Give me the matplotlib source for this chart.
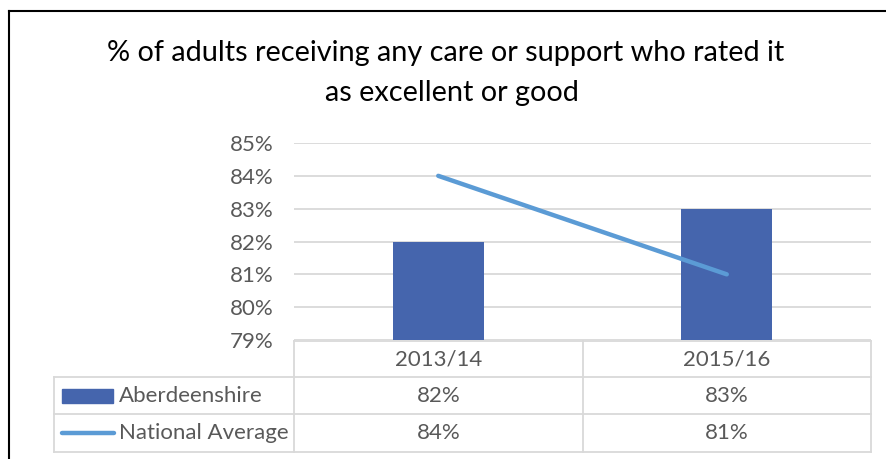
import matplotlib.pyplot as plt
from matplotlib.lines import Line2D
from matplotlib.patches import Rectangle

categories = ["2013/14", "2015/16"]
aberdeenshire = [82, 83]
national_avg = [84, 81]
series_names = ["Aberdeenshire", "National Average"]
title = "% of adults receiving any care or support who rated it\nas excellent or good"

W, H = 887, 459
bar_color = "#4565AD"
line_color = "#5B9BD5"
grid_color = "#D9D9D9"
text_color = "#595959"

plt.rcParams["font.family"] = ["Lato", "DejaVu Sans"]

fig = plt.figure(figsize=(W / 100, H / 100), dpi=100)

def fx(px):
    return px / W

def fy(py):
    return 1 - py / H

# plot area
x0, x1, ytop, ybot = 294, 871, 143, 340
ax = fig.add_axes([fx(x0), fy(ybot), fx(x1) - fx(x0), fy(ytop) - fy(ybot)])
xs = range(len(categories))
ax.bar(xs, aberdeenshire, width=0.315, color=bar_color, zorder=2)
ax.plot(xs, national_avg, color=line_color, lw=3.2, solid_capstyle="round", zorder=3)
ax.set_xlim(-0.5, len(categories) - 0.5)
ax.set_ylim(79, 85)
ax.set_yticks(range(79, 86))
ax.set_yticklabels([f"{v}%" for v in range(79, 86)])
ax.yaxis.grid(True, color=grid_color, lw=1.3, zorder=0)
ax.tick_params(axis="y", length=0, pad=15, labelsize=16, labelcolor=text_color)
ax.tick_params(axis="x", length=0, labelbottom=False)
for s in ax.spines.values():
    s.set_visible(False)

# title (two lines, like the Excel chart title)
line1, line2 = title.split("\n")
fig.text(fx(446), fy(53), line1, ha="center", va="center", fontsize=20.8, color="black")
fig.text(fx(452), fy(93), line2, ha="center", va="center", fontsize=20.8, color="black")

# data table
rows_y = [341, 377, 414, 452]
col_x = [54, 294, 583, 871]
tl = dict(color=grid_color, lw=1.3, transform=fig.transFigure)
fig.add_artist(Line2D([fx(col_x[1]), fx(col_x[3])], [fy(rows_y[0])] * 2, **tl))
for ry in rows_y[1:]:
    fig.add_artist(Line2D([fx(col_x[0]), fx(col_x[3])], [fy(ry)] * 2, **tl))
fig.add_artist(Line2D([fx(col_x[0])] * 2, [fy(rows_y[1]), fy(rows_y[3])], **tl))
for cx in col_x[1:]:
    fig.add_artist(Line2D([fx(cx)] * 2, [fy(rows_y[0]), fy(rows_y[3])], **tl))

ts = dict(ha="center", va="center", fontsize=16, color=text_color)
for i, cat in enumerate(categories):
    cxm = (col_x[i + 1] + col_x[i + 2]) / 2
    fig.text(fx(cxm), fy((rows_y[0] + rows_y[1]) / 2), cat, **ts)
    fig.text(fx(cxm), fy((rows_y[1] + rows_y[2]) / 2), f"{aberdeenshire[i]}%", **ts)
    fig.text(fx(cxm), fy((rows_y[2] + rows_y[3]) / 2), f"{national_avg[i]}%", **ts)

# legend keys
r1 = (rows_y[1] + rows_y[2]) / 2
r2 = (rows_y[2] + rows_y[3]) / 2
fig.add_artist(Rectangle((fx(62), fy(403)), fx(113) - fx(62), fy(389) - fy(403),
                         color=bar_color, transform=fig.transFigure))
fig.add_artist(Line2D([fx(62), fx(114)], [fy(r2)] * 2, color=line_color, lw=3.2,
                      solid_capstyle="round", transform=fig.transFigure))
fig.text(fx(119), fy(r1), series_names[0], ha="left", va="center", fontsize=16, color=text_color)
fig.text(fx(119), fy(r2), series_names[1], ha="left", va="center", fontsize=16, color=text_color)

# outer chart border
bl = dict(color="black", lw=1.5, transform=fig.transFigure)
fig.add_artist(Line2D([fx(9), 1], [fy(11)] * 2, **bl))
fig.add_artist(Line2D([fx(9)] * 2, [fy(11), 0], **bl))

fig.savefig("out.png", dpi=100)
